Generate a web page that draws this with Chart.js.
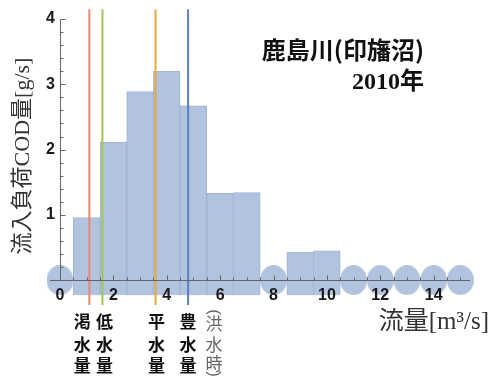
<!DOCTYPE html>
<html lang="ja">
<head>
<meta charset="utf-8">
<title>鹿島川(印旛沼) 2010年</title>
<script src="https://cdn.jsdelivr.net/npm/chart.js@4/dist/chart.umd.min.js"></script>
<style>
html, body { margin: 0; padding: 0; background: #fff; }
#wrap { width: 493px; height: 378px; }
</style>
</head>
<body>
<div id="wrap"><canvas id="codChart" width="493" height="378"></canvas></div>
<script>
// flow class centres [m3/s] and the COD load for each class [g/s]
const flowBins = [0, 1, 2, 3, 4, 5, 6, 7, 8, 9, 10, 11, 12, 13, 14, 15];
const codLoad = [0, 0.96, 2.11, 2.89, 3.20, 2.67, 1.33, 1.34, 0, 0.43, 0.45, 0, 0, 0, 0, 0];
const barBase = -0.23;

// characteristic flows
const flowMarks = [1.10, 1.59, 3.58, 4.80];
const flowMarkNames = ['渇水量', '低水量', '平水量', '豊水量'];
const flowMarkColors = ['#f0866a', '#a3c456', '#e8a83c', '#5c80c0'];

const xTickValues = [0, 2, 4, 6, 8, 10, 12, 14];
const yTickValues = [1, 2, 3, 4];

const barFill = 'rgb(177,195,222)';
const barEdge = 'rgba(150,172,208,0.9)';

// zero classes are shown as a flat ellipse on the axis
function makeEllipse(w, h) {
    const c = document.createElement('canvas');
    c.width = w; c.height = h;
    const g = c.getContext('2d');
    g.fillStyle = barFill;
    g.beginPath();
    g.ellipse(w / 2, h / 2, w / 2, h / 2, 0, 0, Math.PI * 2);
    g.fill();
    return c;
}

const barPoints = [];
const zeroPoints = [];
flowBins.forEach((f, i) => {
    if (codLoad[i] > 0) barPoints.push({ x: f, y: [barBase, codLoad[i]] });
    else zeroPoints.push({ x: f, y: 0 });
});

const markLines = flowMarks.map((v, i) => ({
    type: 'line',
    data: [{ x: v, y: -0.38 }, { x: v, y: 4.15 }],
    borderColor: flowMarkColors[i],
    borderWidth: 2,
    pointRadius: 0,
    clip: false,
    order: 1
}));

const FONT_CJK = '"Noto Sans CJK JP"';

const decorPlugin = {
    id: 'decor',
    afterDatasetsDraw(chart) {
        const { ctx, scales: { x, y } } = chart;
        const px0 = Math.round(x.getPixelForValue(0)) + 0.5;
        const py0 = Math.round(y.getPixelForValue(0)) + 0.5;
        ctx.save();
        ctx.strokeStyle = '#666';
        ctx.lineWidth = 1;
        ctx.beginPath();
        // axis lines
        ctx.moveTo(x.getPixelForValue(-0.38), py0);
        ctx.lineTo(x.getPixelForValue(15.37), py0);
        ctx.moveTo(px0, py0);
        ctx.lineTo(px0, Math.round(y.getPixelForValue(4)) + 0.5);
        // x ticks every 0.5, longer on labelled values
        for (let k = 0; k <= 30; k++) {
            const v = k / 2;
            const len = xTickValues.includes(v) ? 5 : 3;
            const px = Math.round(x.getPixelForValue(v)) + 0.5;
            ctx.moveTo(px, py0);
            ctx.lineTo(px, py0 - len);
        }
        // y ticks every 0.2
        for (let k = 0; k <= 20; k++) {
            const v = k / 5;
            const len = k % 5 === 0 ? 5 : 3;
            const py = Math.round(y.getPixelForValue(v)) + 0.5;
            ctx.moveTo(px0, py);
            ctx.lineTo(px0 + len, py);
        }
        ctx.stroke();

        // x tick labels just under the zero line
        ctx.fillStyle = '#1a1a1a';
        ctx.textAlign = 'center';
        ctx.textBaseline = 'middle';
        ctx.font = 'bold 16px "Liberation Sans"';
        xTickValues.forEach(v => ctx.fillText(String(v), x.getPixelForValue(v), y.getPixelForValue(0) + 15));

        // names of the characteristic flows, written vertically
        ctx.fillStyle = '#111';
        ctx.font = 'bold 17px ' + FONT_CJK;
        const shifts = [-7, 2, 1, 0];
        const rows = [322, 345, 366];
        flowMarks.forEach((v, i) => {
            const cx = x.getPixelForValue(v) + shifts[i];
            [...flowMarkNames[i]].forEach((ch, r) => ctx.fillText(ch, cx, rows[r]));
        });
        ctx.fillStyle = '#666';
        ctx.font = '17px ' + FONT_CJK;
        const fx = x.getPixelForValue(5.77);
        ['洪', '水', '時'].forEach((ch, r) => ctx.fillText(ch, fx, [324, 345, 364][r]));
        // vertical brackets round 洪水時
        [['(', 312], [')', 374]].forEach(([p, py]) => {
            ctx.save();
            ctx.translate(fx, py);
            ctx.rotate(Math.PI / 2);
            ctx.font = '17px "Liberation Sans"';
            ctx.fillText(p, 0, 0);
            ctx.restore();
        });

        // axis titles
        ctx.fillStyle = '#333';
        ctx.font = '25px "Liberation Serif", ' + FONT_CJK;
        ctx.textAlign = 'right';
        ctx.fillText('流量[m³/s]', 489, 322);

        ctx.save();
        ctx.translate(23, 156);
        ctx.rotate(-Math.PI / 2);
        ctx.textAlign = 'center';
        ctx.font = '22px "Liberation Serif", ' + FONT_CJK;
        ctx.fillText('流入負荷COD量[g/s]', 0, 0);
        ctx.restore();

        // station and year
        ctx.fillStyle = '#111';
        ctx.textAlign = 'right';
        ctx.font = 'bold 24px ' + FONT_CJK;
        ctx.fillText('鹿島川(印旛沼)', 424, 50);
        ctx.font = 'bold 24px "Liberation Serif", ' + FONT_CJK;
        ctx.fillText('2010年', 424, 83);
        ctx.restore();
    }
};

new Chart(document.getElementById('codChart'), {
    type: 'bar',
    data: {
        datasets: [
            {
                data: barPoints,
                backgroundColor: barFill,
                borderColor: barEdge,
                borderWidth: 1,
                barPercentage: 1,
                categoryPercentage: 1,
                order: 3
            },
            {
                type: 'scatter',
                data: zeroPoints,
                pointStyle: makeEllipse(27, 30),
                pointRadius: 14,
                clip: false,
                order: 2
            },
            ...markLines
        ]
    },
    options: {
        responsive: false,
        animation: false,
        devicePixelRatio: 1,
        layout: { padding: { top: 19, right: 22, left: 0, bottom: 0 } },
        plugins: { legend: { display: false }, tooltip: { enabled: false } },
        scales: {
            x: {
                type: 'linear',
                min: 0,
                max: 15.4,
                offset: false,
                grid: { display: false, drawTicks: false },
                border: { display: false },
                afterBuildTicks: s => { s.ticks = xTickValues.map(v => ({ value: v })); },
                afterFit: s => { s.height = 73; },
                ticks: { display: false }
            },
            y: {
                min: -0.38,
                max: 4,
                grid: { display: false, drawTicks: false },
                border: { display: false },
                afterBuildTicks: s => { s.ticks = yTickValues.map(v => ({ value: v })); },
                afterFit: s => { s.width = 60; },
                ticks: {
                    padding: 5,
                    color: '#1a1a1a',
                    font: { family: '"Liberation Sans"', size: 16, weight: 'bold' }
                }
            }
        }
    },
    plugins: [decorPlugin]
});
</script>
</body>
</html>
